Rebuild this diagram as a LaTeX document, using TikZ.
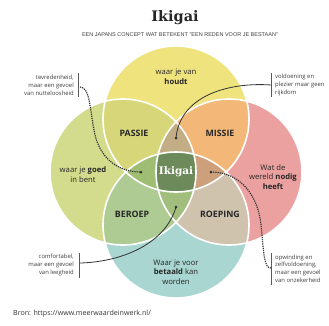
\documentclass[tikz,border=0pt]{standalone}
\usepackage{fontspec}
\setmainfont{Open Sans}
\newfontfamily\slab{DejaVu Serif}
\newfontfamily\capsfont{Liberation Sans}
\begin{document}
\begin{tikzpicture}[x=1pt,y=-1pt,
  lbl/.style={font=\fontsize{7.7}{9.6}\selectfont, text=black!85, align=center, inner sep=0pt},
  zone/.style={font=\bfseries\fontsize{8.8}{10}\selectfont, text=black!85, inner sep=0pt},
  note/.style={font=\fontsize{5.9}{7.8}\selectfont, text=black!75, inner sep=0pt},
  bar/.style={draw=black!65, line width=0.9pt},
  lead/.style={draw=black!80, line width=0.8pt},
  leaddot/.style={draw=black!80, densely dotted, line width=1.2pt},
  pin/.style={circle, fill=black!80, inner sep=0pt, minimum size=3pt}]

% colours of the single, double, triple and central regions
\definecolor{cYellow}{HTML}{EFE37E}
\definecolor{cLime}{HTML}{D3DC8C}
\definecolor{cPink}{HTML}{EBA19F}
\definecolor{cTeal}{HTML}{A9D6D1}
\definecolor{cPassie}{HTML}{D7D77A}
\definecolor{cMissie}{HTML}{F3B877}
\definecolor{cBeroep}{HTML}{AECB93}
\definecolor{cRoeping}{HTML}{D0C3AE}
\definecolor{cTopLens}{HTML}{C3AD84}
\definecolor{cLeftLens}{HTML}{9FBE74}
\definecolor{cRightLens}{HTML}{CDA07C}
\definecolor{cBottomLens}{HTML}{A2BE7C}
\definecolor{cCore}{HTML}{6C8A5A}

\useasboundingbox (0,0) rectangle (329,325);
\fill[white] (0,0) rectangle (329,325);

\def\cT{(176,119) circle[radius=73pt]}
\def\cL{(123,172) circle[radius=73pt]}
\def\cR{(229,172) circle[radius=73pt]}
\def\cB{(176,225) circle[radius=73pt]}

% single circles
\fill[cYellow] \cT;
\fill[cLime] \cL;
\fill[cPink] \cR;
\fill[cTeal] \cB;
% pairs
\begin{scope}\clip \cT; \fill[cPassie] \cL; \fill[cMissie] \cR; \end{scope}
\begin{scope}\clip \cB; \fill[cBeroep] \cL; \fill[cRoeping] \cR; \end{scope}
% triples
\begin{scope}\clip \cT; \clip \cL; \fill[cTopLens] \cR; \end{scope}
\begin{scope}\clip \cT; \clip \cL; \fill[cLeftLens] \cB; \end{scope}
\begin{scope}\clip \cT; \clip \cR; \fill[cRightLens] \cB; \end{scope}
\begin{scope}\clip \cB; \clip \cL; \fill[cBottomLens] \cR; \end{scope}
% all four
\begin{scope}\clip \cT; \clip \cL; \clip \cR; \fill[cCore] \cB; \end{scope}
% white outlines
\draw[white, line width=1.6pt] \cT \cL \cR \cB;

% heading
\node[font=\slab\bfseries\fontsize{14.5}{16}\selectfont, text=black!85, inner sep=0pt] (title) at (175,18) {Ikigai};
\node[font=\capsfont\fontsize{5.5}{6}\selectfont, text=black!75, inner sep=0pt] (subtitle) at (180,35) {EEN JAPANS CONCEPT WAT BETEKENT "EEN REDEN VOOR JE BESTAAN"};

% circle texts
\node[lbl] (love) at (176,77) {waar je van\\\textbf{houdt}};
\node[lbl] (good) at (83,174.5) {waar je \textbf{goed}\\in bent};
\node[lbl] (need) at (273,177) {Wat de\\wereld \textbf{nodig}\\\textbf{heeft}};
\node[lbl] (paid) at (176,272) {Waar je voor\\\textbf{betaald} kan\\worden};

\node[zone] (passie) at (134,133) {PASSIE};
\node[zone] (missie) at (220,133) {MISSIE};
\node[zone] (beroep) at (132,214) {BEROEP};
\node[zone] (roeping) at (220,214) {ROEPING};
\node[font=\slab\bfseries\fontsize{10.5}{12}\selectfont, text=white, inner sep=0pt] (core) at (176,172) {Ikigai};

% pins in the lenses
\node[pin] (pinL) at (141,172) {};
\node[pin] (pinT) at (176,138) {};
\node[pin] (pinR) at (211,172) {};
\node[pin] (pinB) at (176,207) {};

% side notes
\node[note, anchor=east, align=right] (noteTL) at (74,85) {tevredenheid,\\maar een gevoel\\van nutteloosheid};
\node[note, anchor=west, align=left] (noteTR) at (275,85) {voldoening en\\plezier maar geen\\rijkdom};
\node[note, anchor=east, align=right] (noteBL) at (74,265) {comfortabel,\\maar een gevoel\\van leegheid};
\node[note, anchor=west, align=left] (noteBR) at (275,268.5) {opwinding en\\zelfvoldoening,\\maar een gevoel\\van onzekerheid};

\coordinate (barTLa) at (78.5,73); \coordinate (barTLb) at (78.5,97);
\coordinate (barTRa) at (271,73); \coordinate (barTRb) at (271,97);
\coordinate (barBLa) at (79,253); \coordinate (barBLb) at (79,278);
\coordinate (barBRa) at (271,253); \coordinate (barBRb) at (271,285);
\draw[bar] (barTLa) -- (barTLb);
\draw[bar] (barTRa) -- (barTRb);
\draw[bar] (barBLa) -- (barBLb);
\draw[bar] (barBRa) -- (barBRb);

\coordinate (tailTL) at (80,87);
\coordinate (tailTR) at (271,85);
\coordinate (tailBL) at (80,263);
\coordinate (tailBR) at (271,268);

% leader lines
\draw[leaddot] (tailTL) .. controls (90,87) and (90,110) .. (94,130)
  .. controls (98,155) and (115,172) .. (pinL.center);
\draw[lead] (tailTR) .. controls (230,82) and (180,95) .. (pinT.center);
\draw[leaddot] (pinR.center) .. controls (240,172) and (258,195) .. (261,225)
  .. controls (264,255) and (264,268) .. (tailBR);
\draw[lead] (tailBL) .. controls (120,262) and (165,245) .. (pinB.center);

% source line
\node[font=\fontsize{7.1}{8}\selectfont, text=black!80, anchor=west, inner sep=0pt] (source) at (13,314) {Bron: https://www.meerwaardeinwerk.nl/};
\end{tikzpicture}
\end{document}
